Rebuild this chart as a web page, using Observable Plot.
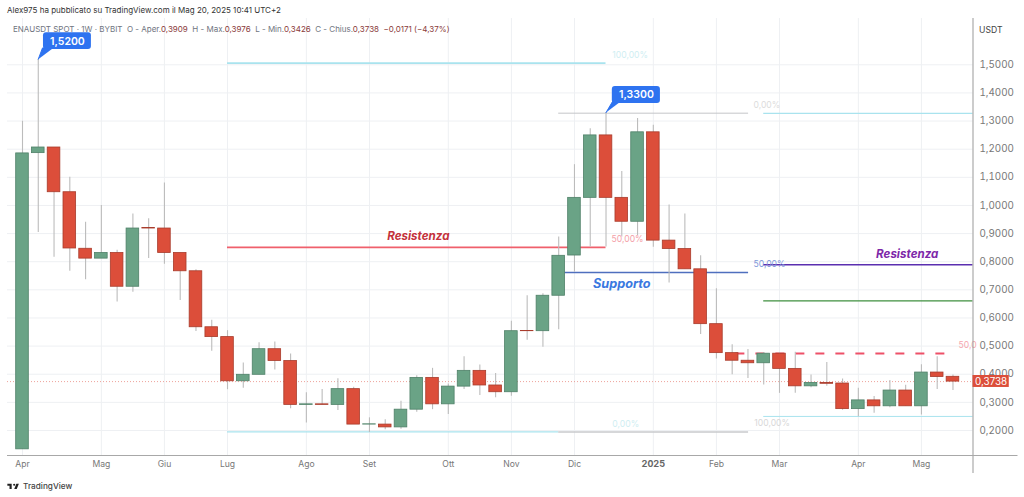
<!DOCTYPE html>
<html><head><meta charset="utf-8">
<script src="https://cdn.jsdelivr.net/npm/d3@7"></script>
<script src="https://cdn.jsdelivr.net/npm/@observablehq/plot@0.6"></script>
<style>
html,body{margin:0;padding:0;background:#fff;overflow:hidden}
body{width:1024px;height:497px;position:relative;font-family:Inter,"Liberation Sans",sans-serif}
#ttl{height:18px;line-height:20px;padding-left:7px;font-size:8px;color:#333;white-space:nowrap}
#hdr{position:absolute;left:13px;top:22.5px;font-size:8px;line-height:12px;color:#6f7480;white-space:nowrap;z-index:2}
#hdr b{font-weight:400;color:#8a3a3a}
#ftr{position:absolute;left:7px;top:480px;display:flex;align-items:center;gap:3.5px;font-size:8.2px;line-height:12px;color:#444;font-weight:500}
svg{display:block}
</style></head><body>
<div id="ttl">Alex975 ha pubblicato su TradingView.com il Mag 20, 2025 10:41 UTC+2</div>
<div id="hdr">ENAUSDT SPOT · 1W · BYBIT&nbsp; O - Aper.<b>0,3909</b>&nbsp; H - Max.<b>0,3976</b>&nbsp; L - Min.<b>0,3426</b>&nbsp; C - Chius.<b>0,3738</b>&nbsp; <b>−0,0171 (−4,37%)</b></div>
<div id="chart"></div>
<div id="ftr"><svg width="12.6" height="6.7" viewBox="1 5 35 17"><path fill="#222" d="M14 6H2v6h6v9h6V6zm14 15h-7l6-15h7l-6 15zm-7-9a3 3 0 1 0 0-6 3 3 0 0 0 0 6z"/></svg><span>TradingView</span></div>
<script>
const open_ = [.133,1.186,1.206,1.047,.846,.811,.831,.711,.92,.918,.831,.766,.567,.532,.375,.398,.489,.447,.291,.293,.291,.347,.221,.221,.211,.274,.387,.293,.356,.412,.36,.336,.554,.553,.679,.822,1.027,1.249,1.027,.942,1.26,.875,.845,.773,.578,.475,.448,.439,.473,.419,.357,.369,.367,.276,.307,.286,.342,.286,.406,.3909];
const high = [1.299,1.52,1.206,1.10,.94,1.0,.841,.97,.953,1.08,.831,.771,.592,.555,.44,.512,.515,.472,.334,.346,.384,.354,.245,.238,.304,.395,.421,.365,.462,.433,.403,.588,.679,.686,.888,1.145,1.273,1.33,1.121,1.309,1.285,1.002,.97,.821,.704,.505,.488,.477,.477,.478,.397,.442,.383,.35,.321,.378,.361,.434,.462,.3976];
const low = [.133,.904,.816,.766,.736,.811,.657,.691,.811,.791,.662,.552,.482,.345,.35,.398,.415,.277,.227,.291,.271,.221,.193,.203,.204,.265,.274,.257,.346,.324,.316,.322,.521,.496,.558,.763,.852,.852,.888,.893,.851,.724,.773,.541,.454,.398,.385,.362,.332,.332,.352,.357,.272,.249,.261,.281,.286,.255,.346,.3426];
const close_ = [1.185,1.206,1.047,.847,.811,.831,.711,.918,.918,.831,.766,.567,.532,.375,.398,.489,.447,.291,.293,.291,.347,.221,.222,.211,.274,.387,.293,.356,.412,.36,.336,.553,.553,.679,.821,1.027,1.249,1.027,.942,1.26,.875,.845,.773,.578,.475,.448,.439,.473,.419,.357,.369,.366,.276,.307,.286,.342,.286,.406,.39,.3738];
const candles = open_.map((o,i)=>({i,o,h:high[i],l:low[i],c:close_[i]}));

const monthTicks = [0,5,9,13,18,22,27,31,35,44,48,53,57];
const monthLabels = ["Apr","Mag","Giu","Lug","Ago","Set","Ott","Nov","Dic","Feb","Mar","Apr","Mag"];
const yearTick = [40];
const priceTicks = [.2,.3,.4,.5,.6,.7,.8,.9,1,1.1,1.2,1.3,1.4,1.5];

const xEnd = 60.27, xStart = -0.951, yMin = 0.1111, yMax = 1.6646;
const levels = [
  {a:13,b:37,v:1.506,s:"#a9e3ee",w:1.6},
  {a:34,b:46.04,v:1.328,s:"#c4c6c8",w:1},
  {a:47,b:xEnd,v:1.327,s:"#a9e3ee",w:1.3},
  {a:13,b:37,v:.851,s:"#f0606c",w:1.6},
  {a:34.4,b:46.04,v:.762,s:"#4f6fbe",w:1.5},
  {a:47,b:xEnd,v:.789,s:"#5b2fb0",w:1.5},
  {a:47,b:xEnd,v:.661,s:"#3f8f3f",w:1.3},
  {a:47,b:xEnd,v:.25,s:"#a9e3ee",w:1},
  {a:13,b:34,v:.195,s:"#a9e3ee",w:1.3},
  {a:34,b:46.04,v:.195,s:"#c8cacc",w:1.5}
];
const pctLabels = [
  {x:37.4,y:1.533,t:"100,00%",f:"#cfeef2"},
  {x:46.35,y:1.355,t:"0,00%",f:"#dcdcdc"},
  {x:37.35,y:.879,t:"50,00%",f:"#f4a0a8"},
  {x:46.35,y:.792,t:"50,00%",f:"#7d97da"},
  {x:59.35,y:.502,t:"50,0",f:"#f6a6ae"},
  {x:46.4,y:.225,t:"100,00%",f:"#d8d8d8"},
  {x:37.4,y:.221,t:"0,00%",f:"#cfeef2"}
];
const notes = [
  {x:25.1,y:.89,t:"Resistenza",f:"#c4323c",z:11.6},
  {x:38,y:.7225,t:"Supporto",f:"#3a78e0",z:12.7},
  {x:56.1,y:.826,t:"Resistenza",f:"#7d28a8",z:11.6}
];
const callouts = [
  {x1:1.33,x2:4.37,y1:1.554,y2:1.614,tx:2.85,ty:1.584,t:"1,5200"},
  {x1:37.4,x2:40.45,y1:1.3625,y2:1.4225,tx:38.93,ty:1.393,t:"1,3300"}
];
const pointers = [
  {k:1,x:1,y:1.52},{k:1,x:1.27,y:1.56},{k:1,x:1.95,y:1.56},
  {k:2,x:37,y:1.33},{k:2,x:37.42,y:1.37},{k:2,x:37.95,y:1.37}
];
const last = .3738;
const fmt = d => d.toFixed(4).replace(".",",");
const lbl = new Map(monthTicks.map((t,i)=>[t,monthLabels[i]]));
const up = d => d.c >= d.o;
const bw = 0.4;
const blue = "#2e73f0";

const plot = Plot.plot({
  width:1024, height:455,
  marginLeft:7, marginRight:51.5, marginTop:0, marginBottom:18,
  style:{fontFamily:"Inter, 'Liberation Sans', sans-serif", background:"#fff"},
  x:{domain:[xStart,xEnd], axis:null},
  y:{domain:[yMin,yMax], axis:null},
  marks:[
    Plot.gridY(priceTicks,{stroke:"#eef0f3",strokeOpacity:1}),
    Plot.gridX([...monthTicks,...yearTick],{stroke:"#eef0f3",strokeOpacity:1}),
    Plot.ruleY(levels,{x1:"a",x2:"b",y:"v",stroke:"s",strokeWidth:"w"}),
    Plot.ruleY([.474],{x1:44.6,x2:58.5,stroke:"#ee5068",strokeWidth:2,strokeDasharray:"9,11",strokeDashoffset:10}),
    Plot.ruleY([last],{stroke:"#e88a80",strokeWidth:.8,strokeDasharray:"1,2"}),
    Plot.ruleX(candles,{x:"i",y1:"l",y2:"h",stroke:"#bcbcbc",strokeWidth:1.1}),
    Plot.rect(candles,{x1:d=>d.i-bw,x2:d=>d.i+bw,y1:"o",y2:"c",
      fill:d=>up(d)?"#6aa386":"#dc4e3a",
      stroke:d=>up(d)?"#4f8068":"#a83c2c",strokeWidth:.8}),
    Plot.text(pctLabels,{x:"x",y:"y",text:"t",fill:"f",textAnchor:"start",fontSize:8.6}),
    Plot.text(notes,{x:"x",y:"y",text:"t",fill:"f",fontSize:"z",fontWeight:"bold",fontStyle:"italic"}),
    Plot.line(pointers,{x:"x",y:"y",z:"k",fill:blue,stroke:blue,strokeWidth:1}),
    Plot.rect(callouts,{x1:"x1",x2:"x2",y1:"y1",y2:"y2",fill:blue,rx:3}),
    Plot.text(callouts,{x:"tx",y:"ty",text:"t",fill:"#fff",fontSize:10.5,fontWeight:600}),
    Plot.ruleX([xEnd],{stroke:"#999",strokeWidth:1,insetBottom:-18}),
    Plot.ruleY([yMin],{stroke:"#a8a8a8",strokeWidth:1,insetRight:-45}),
    Plot.axisX({ticks:monthTicks,tickFormat:d=>lbl.get(d),tickSize:0,tickPadding:5,fontSize:8.6,color:"#777",label:null}),
    Plot.axisX({ticks:yearTick,tickFormat:()=>"2025",tickSize:0,tickPadding:5,fontSize:9.2,fontWeight:"bold",color:"#666",label:null}),
    Plot.axisY({anchor:"right",ticks:priceTicks,tickFormat:fmt,tickSize:0,tickPadding:6.5,fontSize:9.8,color:"#777",label:null}),
    Plot.text(["USDT"],{frameAnchor:"top-right",dx:29.5,dy:8,fontSize:8.6,fill:"#444",textAnchor:"end"}),
    Plot.rect([last],{x1:xEnd,x2:xEnd+2.3,y1:.353,y2:.3955,fill:"#dc4e3a"}),
    Plot.text([last],{x:xEnd+1.15,y:last,text:fmt,fill:"#fff",fontSize:9.8})
  ]
});
document.getElementById("chart").appendChild(plot);
</script>
</body></html>
